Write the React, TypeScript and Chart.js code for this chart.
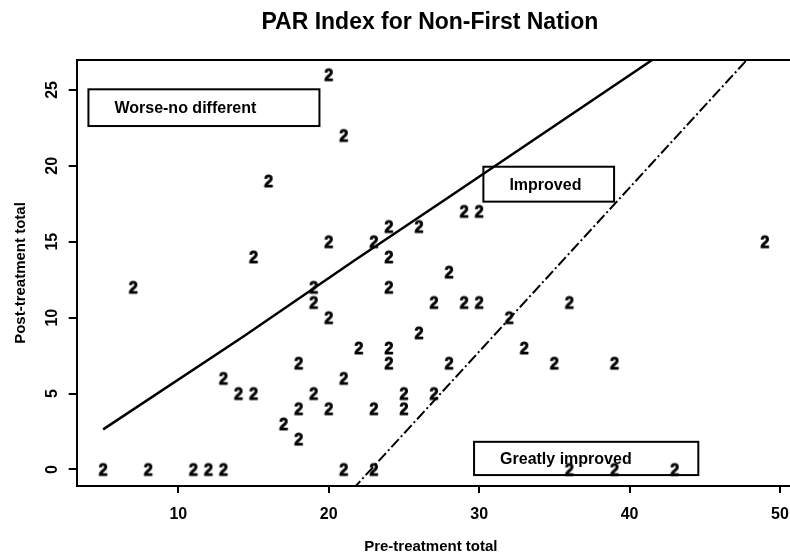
import React, { useEffect, useRef } from "react";
import { Chart, registerables } from "chart.js";

Chart.register(...registerables);

// ---- data ----
const preTotal = [
  20, 21, 16, 20, 15, 23, 24, 24, 26, 29, 30, 49, 28, 7, 19, 19, 20, 24, 26, 27,
  29, 30, 36, 32, 22, 24, 24, 18, 28, 33, 35, 39, 21, 13, 14, 15, 19, 25, 27, 18,
  20, 23, 25, 17, 18, 5, 8, 11, 12, 13, 21, 23, 36, 39, 43,
];
const postTotal = [
  26, 22, 19, 15, 14, 15, 16, 14, 16, 17, 17, 15, 13, 12, 12, 11, 10, 12, 9, 11,
  11, 11, 11, 10, 8, 8, 7, 7, 7, 8, 7, 7, 6, 6, 5, 5, 5, 5, 5, 4,
  4, 4, 4, 3, 2, 0, 0, 0, 0, 0, 0, 0, 0, 0, 0,
];
const xTicks = [10, 20, 30, 40, 50];
const yTicks = [0, 5, 10, 15, 20, 25];

// boundary lines
const worseLinePre = [5, 14.3, 21.75, 27.7, 41.5];
const worseLinePost = [2.64, 8.74, 13.8, 17.75, 26.97];
const greatLinePre = [21.6, 48.1];
const greatLinePost = [-1.3, 27.3];

// region labels (boxes in data units)
const regionLabels = ["Worse-no different", "Improved", "Greatly improved"];
const regionLeft = [4.02, 30.28, 29.66];
const regionRight = [19.38, 38.97, 44.57];
const regionTop = [25.04, 19.94, 1.82];
const regionBottom = [22.62, 17.64, -0.37];

const titleText = "PAR Index for Non-First Nation";
const xTitle = "Pre-treatment total";
const yTitle = "Post-treatment total";

const FONT = '"Liberation Sans", Arial, Helvetica, sans-serif';

function makeTwoGlyph(): HTMLCanvasElement {
  const c = document.createElement("canvas");
  c.width = 18;
  c.height = 18;
  const g = c.getContext("2d")!;
  g.fillStyle = "#000";
  g.strokeStyle = "#000";
  g.lineWidth = 0.9;
  g.lineJoin = "round";
  g.font = `bold 16px ${FONT}`;
  g.textAlign = "center";
  g.textBaseline = "alphabetic";
  g.fillText("2", 9, 9 + 5.75);
  g.strokeText("2", 9, 9 + 5.75);
  return c;
}

const decorPlugin = {
  id: "decor",
  afterDatasetsDraw(chart: any) {
    const { ctx, scales } = chart;
    const x = scales.x;
    const y = scales.y;
    ctx.save();
    ctx.strokeStyle = "#000";
    ctx.fillStyle = "#000";
    ctx.lineWidth = 2;
    ctx.font = `bold 16px ${FONT}`;
    ctx.textAlign = "left";
    ctx.textBaseline = "alphabetic";
    regionLabels.forEach((lab, i) => {
      const l = x.getPixelForValue(regionLeft[i]);
      const r = x.getPixelForValue(regionRight[i]);
      const t = y.getPixelForValue(regionTop[i]);
      const b = y.getPixelForValue(regionBottom[i]);
      ctx.strokeRect(l, t, r - l, b - t);
      ctx.fillText(lab, l + 26, (t + b) / 2 + 5.7);
    });
    ctx.restore();
  },
  afterDraw(chart: any) {
    const { ctx, chartArea: ca, scales } = chart;
    const x = scales.x;
    const y = scales.y;
    ctx.save();
    // top frame line
    ctx.strokeStyle = "#000";
    ctx.lineWidth = 2;
    ctx.beginPath();
    ctx.moveTo(ca.left, ca.top);
    ctx.lineTo(chart.width, ca.top);
    ctx.stroke();

    ctx.fillStyle = "#000";
    // title
    ctx.font = `bold 23px ${FONT}`;
    ctx.textAlign = "center";
    ctx.textBaseline = "alphabetic";
    ctx.fillText(titleText, (ca.left + ca.right) / 2 - 3, 28.5);

    // x tick labels
    ctx.font = `bold 16px ${FONT}`;
    xTicks.forEach((v) => {
      ctx.fillText(String(v), x.getPixelForValue(v), ca.bottom + 32.5);
    });
    // y tick labels (rotated)
    yTicks.forEach((v) => {
      ctx.save();
      ctx.translate(ca.left - 20, y.getPixelForValue(v));
      ctx.rotate(-Math.PI / 2);
      ctx.fillText(String(v), 0, 0);
      ctx.restore();
    });
    // axis titles
    ctx.font = `bold 15px ${FONT}`;
    ctx.fillText(xTitle, (ca.left + ca.right) / 2 - 2, ca.bottom + 65);
    ctx.save();
    ctx.translate(25, (ca.top + ca.bottom) / 2);
    ctx.rotate(-Math.PI / 2);
    ctx.fillText(yTitle, 0, 0);
    ctx.restore();
    ctx.restore();
  },
};

export default function App() {
  const ref = useRef<HTMLCanvasElement | null>(null);
  useEffect(() => {
    if (!ref.current) return;
    const glyph = makeTwoGlyph();
    const points = preTotal.map((p, i) => ({ x: p, y: postTotal[i] }));
    const worse = worseLinePre.map((p, i) => ({ x: p, y: worseLinePost[i] }));
    const great = greatLinePre.map((p, i) => ({ x: p, y: greatLinePost[i] }));
    const chart = new Chart(ref.current, {
      type: "scatter",
      data: {
        datasets: [
          {
            label: "points",
            data: points,
            pointStyle: glyph as any,
            pointRadius: 6,
            showLine: false,
          },
          {
            label: "worse boundary",
            data: worse,
            showLine: true,
            borderColor: "#000",
            borderWidth: 2.5,
            pointRadius: 0,
            fill: false,
          },
          {
            label: "greatly boundary",
            data: great,
            showLine: true,
            borderColor: "#000",
            borderWidth: 2,
            borderDash: [11, 3, 2, 3],
            pointRadius: 0,
            fill: false,
          },
        ],
      },
      options: {
        animation: false,
        responsive: true,
        maintainAspectRatio: false,
        devicePixelRatio: 1,
        layout: { autoPadding: false, padding: { left: 0, right: 1, top: 60, bottom: 0 } },
        plugins: {
          legend: { display: false },
          tooltip: { enabled: false },
          title: { display: false },
        },
        events: [],
        scales: {
          x: {
            type: "linear",
            min: 3.24,
            max: 50.6,
            afterBuildTicks: (s: any) => {
              s.ticks = xTicks.map((v) => ({ value: v }));
            },
            afterFit: (s: any) => {
              s.height = 69;
            },
            ticks: { display: false },
            grid: {
              drawOnChartArea: false,
              drawTicks: true,
              tickLength: 7,
              color: "#000",
              lineWidth: 2,
            },
            border: { display: true, color: "#000", width: 2 },
          },
          y: {
            type: "linear",
            min: -1.09,
            max: 26.97,
            afterBuildTicks: (s: any) => {
              s.ticks = yTicks.map((v) => ({ value: v }));
            },
            afterFit: (s: any) => {
              s.width = 76.7;
            },
            ticks: { display: false },
            grid: {
              drawOnChartArea: false,
              drawTicks: true,
              tickLength: 8,
              color: "#000",
              lineWidth: 2,
            },
            border: { display: true, color: "#000", width: 2 },
          },
        },
      },
      plugins: [decorPlugin],
    });
    return () => chart.destroy();
  }, []);
  return (
    <div
      style={{
        position: "absolute",
        left: 0,
        top: 0,
        width: 790,
        height: 555,
        background: "#fff",
      }}
    >
      <canvas ref={ref} />
    </div>
  );
}
